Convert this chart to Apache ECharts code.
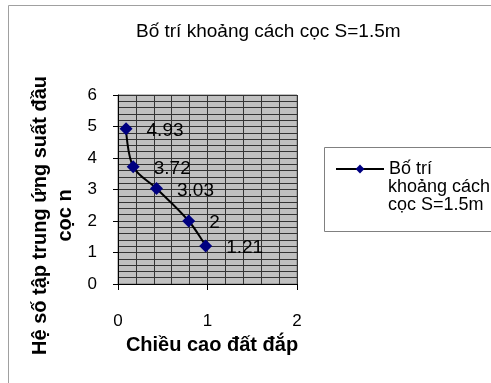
<!DOCTYPE html>
<html>
<head>
<meta charset="utf-8">
<script src="https://cdn.jsdelivr.net/npm/echarts@6/dist/echarts.min.js"></script>
<style>
  html, body { margin: 0; padding: 0; background: #fff; }
  #main { width: 491px; height: 383px; }
</style>
</head>
<body>
<div id="main"></div>
<script>
// du lieu doc tu hinh
const chartTitle = 'Bố trí khoảng cách cọc S=1.5m';
const seriesName = 'Bố trí khoảng cách cọc S=1.5m';
const legendLines = ['Bố trí', 'khoảng cách', 'cọc S=1.5m'];
const xName = 'Chiều cao đất đắp';
const yName = 'Hệ số tập trung ứng suất đầu\ncọc n';
const heights = [0.09, 0.17, 0.43, 0.79, 0.98];
const coeffs = [4.93, 3.72, 3.03, 2, 1.21];

const font = 'Liberation Sans, Arial, sans-serif';

// ghep cap (x, y) cho series
const points = [];
for (let i = 0; i < heights.length; i++) {
  points.push([heights[i], coeffs[i]]);
}

// tieu de can giua quanh x = 268
const ctx = document.createElement('canvas').getContext('2d');
ctx.font = '19px ' + font;
const titleLeft = Math.round(268 - ctx.measureText(chartTitle).width / 2) - 5;

const myChart = echarts.init(document.getElementById('main'));

// dong 2, 3 cua chu thich (legend chi ve dong dau canh bieu tuong)
const legendExtra = legendLines.slice(1).map(function (t, i) {
  return {
    type: 'text', silent: true,
    left: 388, top: 178 + i * 18,
    style: { text: t, fontFamily: font, fontSize: 18, fill: '#000' }
  };
});

const option = {
  backgroundColor: '#fff',
  textStyle: { fontFamily: font },
  title: {
    text: chartTitle,
    left: titleLeft,
    top: 17,
    textStyle: { fontFamily: font, fontSize: 19, fontWeight: 'normal', color: '#000' }
  },
  grid: {
    left: 118,
    top: 95,
    width: 179,
    height: 189,
    show: true,
    backgroundColor: '#c0c0c0',
    borderColor: '#808080',
    borderWidth: 1
  },
  legend: {
    left: 335,
    top: 160,
    padding: 0,
    itemWidth: 48,
    itemHeight: 11,
    data: [seriesName],
    formatter: function () { return legendLines[0]; },
    textStyle: { fontFamily: font, fontSize: 18, lineHeight: 18, color: '#000' }
  },
  xAxis: {
    type: 'value',
    min: 0,
    max: 2,
    interval: 1,
    name: xName,
    nameLocation: 'middle',
    nameGap: 51,
    nameTextStyle: { fontFamily: font, fontSize: 20, fontWeight: 'bold', color: '#000', padding: [0, 0, 0, 9] },
    axisLine: { show: true, onZero: false, lineStyle: { color: '#000', width: 1 } },
    axisTick: { show: true, length: 6, lineStyle: { color: '#000' } },
    axisLabel: { margin: 29, fontSize: 17, color: '#000', fontFamily: font },
    splitLine: { show: true, lineStyle: { color: '#333', width: 1 } },
    minorTick: { show: false, splitNumber: 5 },
    minorSplitLine: { show: true, lineStyle: { color: '#333', width: 1 } }
  },
  yAxis: {
    type: 'value',
    min: 0,
    max: 6,
    interval: 1,
    name: yName,
    nameLocation: 'middle',
    nameRotate: 90,
    nameGap: 40,
    nameTextStyle: {
      fontFamily: font, fontSize: 20, fontWeight: 'bold', color: '#000',
      lineHeight: 25, align: 'center', padding: [0, 52, 0, 0]
    },
    axisLine: { show: true, onZero: false, lineStyle: { color: '#000', width: 1 } },
    axisTick: { show: true, length: 5, lineStyle: { color: '#000' } },
    axisLabel: { margin: 21, fontSize: 17, color: '#000', fontFamily: font },
    splitLine: { show: true, lineStyle: { color: '#333', width: 1 } },
    minorTick: { show: false, splitNumber: 5 },
    minorSplitLine: { show: true, lineStyle: { color: '#333', width: 1 } }
  },
  series: [
    {
      name: seriesName,
      type: 'line',
      data: points,
      smooth: 0.35,
      symbol: 'diamond',
      symbolSize: 13,
      itemStyle: { color: '#000080' },
      lineStyle: { color: '#000', width: 2 },
      label: {
        show: true,
        position: 'right',
        distance: 14,
        offset: [0, 2],
        fontFamily: font,
        fontSize: 19,
        color: '#000',
        formatter: function (p) { return p.value[1]; }
      },
      emphasis: { disabled: true },
      animation: false
    }
  ],
  // khung ngoai va khung chu thich
  graphic: [
    {
      type: 'rect', z: -10, silent: true,
      shape: { x: 8.5, y: 5.5, width: 600, height: 600 },
      style: { fill: 'none', stroke: '#a0a0a0', lineWidth: 1 }
    },
    {
      type: 'rect', z: -5, silent: true,
      shape: { x: 324.5, y: 147.5, width: 200, height: 84 },
      style: { fill: '#fff', stroke: '#808080', lineWidth: 1 }
    }
  ].concat(legendExtra),
  animation: false
};

myChart.setOption(option);
</script>
</body>
</html>
